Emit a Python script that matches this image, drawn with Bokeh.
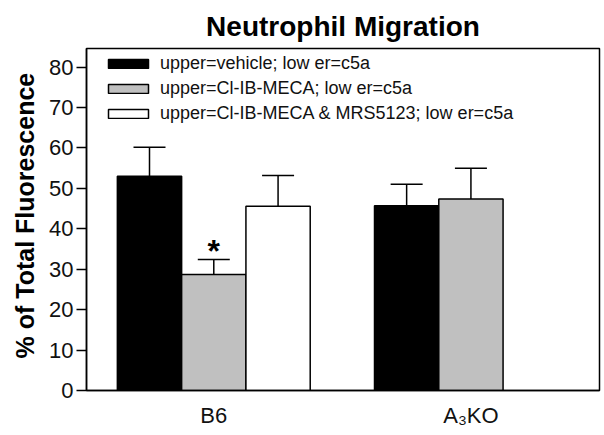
from bokeh.plotting import figure
from bokeh.models import (ColumnDataSource, Whisker, TeeHead, Legend, LegendItem,
                          Title, FixedTicker, Range1d)
from bokeh.core.properties import value
from bokeh.embed import file_html
from bokeh.resources import INLINE

# ---- data ----
groups = ["B6", "A\u2083KO"]
series_labels = ["upper=vehicle; low er=c5a",
                 "upper=Cl-IB-MECA; low er=c5a",
                 "upper=Cl-IB-MECA & MRS5123; low er=c5a"]
vehicle_mean = [53.0, 45.7]
vehicle_sem = [7.2, 5.3]
clib_mean = [28.7, 47.4]
clib_sem = [3.7, 7.6]
mrs_mean = [45.6]          # only B6
mrs_sem = [7.6]
y_ticks = [0, 10, 20, 30, 40, 50, 60, 70, 80]
significant = [("B6", 1)]  # (group, series index) marked with *

FONT = "Liberation Sans"
colors = ["#000000", "#c0c0c0", "#ffffff"]
group_centers = [1.5, 5.5]
offsets = [-1.0, 0.0, 1.0]

p = figure(width=604, height=435, output_backend="svg", toolbar_location=None,
           x_range=Range1d(-0.48, 7.5), y_range=Range1d(0, 84.6),
           min_border_left=86, min_border_right=5, min_border_top=48,
           min_border_bottom=45)
p.title.text_font = FONT
p.title.text = "Neutrophil Migration"
p.title.text_font_size = "28px"
p.title.text_font_style = "bold"
p.title.align = "center"
p.title.text_color = "#000000"
p.title.standoff = 14

p.grid.visible = False
p.outline_line_color = "#000000"
p.outline_line_width = 1.5
p.background_fill_color = "#ffffff"

series = [(vehicle_mean, vehicle_sem), (clib_mean, clib_sem), (mrs_mean, mrs_sem)]
renderers = []
srcs = []
for i, (means, sems) in enumerate(series):
    xs = [group_centers[g] + offsets[i] for g in range(len(means))]
    src = ColumnDataSource(dict(
        x=xs, top=means,
        upper=[m + s for m, s in zip(means, sems)],
        grp=groups[:len(means)]))
    srcs.append(src)
    r = p.vbar(x="x", top="top", width=1.0, bottom=0, source=src,
               fill_color=colors[i], line_color="#000000", line_width=1.5)
    renderers.append(r)
    w = Whisker(base="x", lower="top", upper="upper", source=src,
                line_color="#000000", line_width=1.5,
                upper_head=TeeHead(size=32, line_color="#000000", line_width=1.5),
                lower_head=None, level="underlay")
    p.add_layout(w)

# significance markers
sx, sy = [], []
for g, si in significant:
    gi = groups.index(g)
    sx.append(group_centers[gi] + offsets[si])
    sy.append(srcs[si].data["upper"][gi])
p.text(x=sx, y=sy, text=["*"] * len(sx), text_font=value(FONT),
       text_font_size="32px", text_font_style="bold", text_align="center",
       text_baseline="bottom", y_offset=9, text_color="#000000")

# axes
p.yaxis.ticker = FixedTicker(ticks=y_ticks)
p.yaxis.major_tick_out = 10
p.yaxis.major_tick_in = 0
p.yaxis.minor_tick_out = 0
p.yaxis.minor_tick_in = 0
p.yaxis.major_label_standoff = 3
p.yaxis.major_label_text_font = FONT
p.yaxis.major_label_text_font_size = "22px"
p.yaxis.major_label_text_color = "#111111"
p.yaxis.axis_line_width = 1.5
p.yaxis.major_tick_line_width = 1.5

p.xaxis.ticker = FixedTicker(ticks=group_centers)
p.xaxis.major_label_overrides = {c: g for c, g in zip(group_centers, groups)}
p.xaxis.major_tick_out = 0
p.xaxis.major_tick_in = 0
p.xaxis.minor_tick_out = 0
p.xaxis.minor_tick_in = 0
p.xaxis.major_label_standoff = 12
p.xaxis.major_label_text_font = FONT
p.xaxis.major_label_text_font_size = "22px"
p.xaxis.major_label_text_color = "#111111"
p.xaxis.axis_line_width = 1.5

# y axis label as a side title, aligned like the reference
ylab = Title(text="% of Total Fluorescence", align="left", offset=32,
             standoff=16, text_font=FONT, text_font_size="25px",
             text_font_style="bold", text_color="#000000")
p.add_layout(ylab, "left")

legend = Legend(items=[LegendItem(label=series_labels[i], renderers=[renderers[i]])
                       for i in range(3)],
                location=(13, 262), padding=4, margin=0, spacing=4,
                glyph_width=50, glyph_height=11, label_height=20,
                label_standoff=7, label_text_font=FONT,
                label_text_font_size="18px", label_text_color="#111111",
                border_line_alpha=0, background_fill_alpha=0)
p.add_layout(legend)

open("out.html", "w").write(file_html(p, INLINE))
